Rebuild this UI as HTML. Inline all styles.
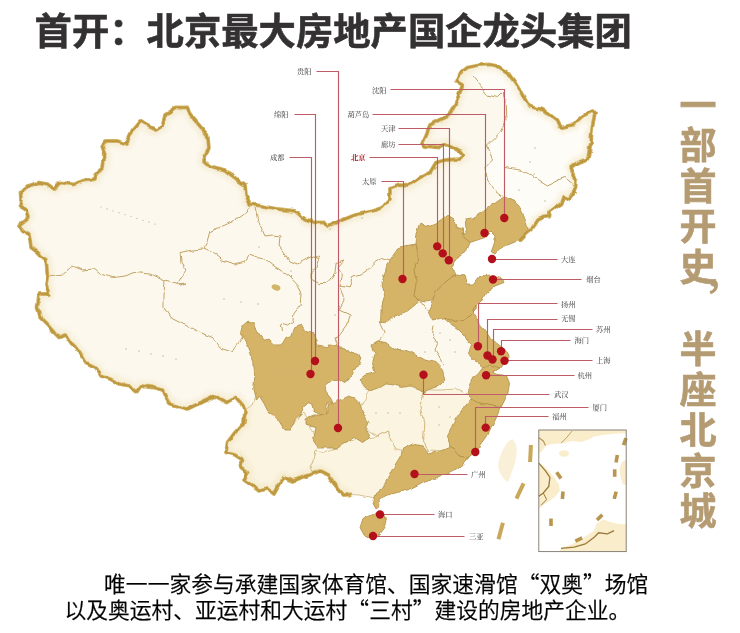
<!DOCTYPE html>
<html lang="zh-CN"><head><meta charset="utf-8"><title>首开</title>
<style>
html,body{margin:0;padding:0;background:#fff;}
body{width:740px;height:633px;position:relative;overflow:hidden;font-family:"Liberation Sans","Noto Sans CJK SC",sans-serif;}
.title{position:absolute;left:34.6px;top:3.6px;font-size:37.34px;font-weight:700;-webkit-text-stroke:0.6px #333131;color:#333131;white-space:nowrap;line-height:56px;letter-spacing:0;}
.side{position:absolute;left:679.4px;-webkit-text-stroke:0.6px #b59b72;width:40px;font-size:37px;font-weight:700;color:#b59b72;line-height:40.5px;text-align:left;white-space:nowrap;}
.side div{height:40.5px;}
.q{font-family:"Noto Sans CJK SC",sans-serif;}
.bottom{position:absolute;font-size:21.78px;color:#000;white-space:nowrap;line-height:26px;font-weight:350;-webkit-text-stroke:0.25px #000;}
.wrap{position:absolute;left:0;top:0;width:740px;height:633px;will-change:transform;}
</style></head><body><div class="wrap">
<svg width="740" height="633" viewBox="0 0 740 633" style="position:absolute;left:0;top:0">
<defs><clipPath id="cn"><polygon points="350,494.5 342.5,495 337.5,489 332.5,482.5 327.5,475 320,471 312.5,474 302.5,477.5 292.5,481 284,477.5 279,485 274,494 267.5,489 259,491 252.5,486 244,480 247.5,472.5 241,467.5 242.5,460 235,455 226,452.5 227.5,442.5 235,432.5 244,422.5 245,410 242.5,405 236,397.5 227.5,402.5 215,396 201,402.5 187.5,409 170,404 166,398 162.5,390 152.5,387.5 141,386 136,392.5 130,386 120,384 110,379 101,376 96,367.5 86,362.5 80,352.5 71,344 65,335 59,337.5 54,332.5 47.5,325 40,317.5 37.5,307.5 39,294 49,294 46,285 47.5,275 46,260 37.5,252.5 31,247.5 30,240 29,235 22.5,231 19,225 24,221 28,217.5 26,210 19.5,206 21,200 20.5,192.5 27.5,186 39,182.5 47.5,184 54,189 60,182.5 72.5,184.5 82.5,181 95,179 96,174 103,167.5 105,155 102,146 105,141 117.5,141 126,144 132.5,130 140,121 146,125 156,130 162.5,126 165,115 170,112 176,107.5 187.5,107.5 190,115 199,125 207.5,135 209,147.5 204,161 210,166 225,170 237.5,180 245,185 246,195 250,204 262.5,206 277.5,209 295,211 305,219 315,222.5 325,222.5 327.5,226 340,221 355,215 372.5,211 382.5,207.5 390,199 390,187.5 400,184 409,185 420,177.5 430,172.5 436,162.5 445,160 460,159 464,156 460,151 451,146 445,144 439,147.5 425,146 422.5,142.5 426,135 430,125 439,120 447.5,116 454,106 459,95 462.5,85 456,81 459,74 467.5,67.5 480,65 490,64.5 497.5,66 507.5,72.5 515,82.5 522.5,95 529,106 540,109 550,114 557.5,120 561,127.5 572.5,125 582.5,116 592.5,111 595,114 592.5,125 591,142.5 587.5,159 577.5,162.5 571,167.5 576,180 575.7,186 573,194.6 569.6,199 564.3,196.4 561.7,203.4 555.5,207.8 550.3,211.3 549.4,216.6 543.2,217.4 538,220 532.7,228 525.7,234 519.5,240.3 519.5,240.3 515,242 506.4,245.5 499.3,249 495,254 491,252.5 494,244 496,236 491,231 485,237.5 477.5,240 470,242.5 466,252.5 455,260 452.5,266 456,274 465,275 467.5,284 474,284 480,276 490,275 502.5,279 504,282.5 495,286 487.5,292.5 482.5,300 475,306 473.2,309.5 474,315.8 478.7,322.1 484.2,328.4 489,334.7 492.1,339.5 498.4,344.2 504.7,349 507.9,355.3 507.9,361.6 503.2,363.2 500,367.9 493.7,371.8 498.4,374.2 506.3,375.8 509.5,382.1 507.9,394.7 505,397.5 500,407.5 496,417.5 491,427.5 487.5,436 481,445 476,452.5 470,455 462.5,464 455,470 442.5,476 432.5,480 425,481 417.5,485 407.5,490 397.5,492.5 387.5,495 379,499 380,506 376,509 372.5,502.5 372.5,497.5 360,495"/></clipPath><filter id="bl" x="-5%" y="-5%" width="110%" height="110%"><feGaussianBlur stdDeviation="2.2"/></filter><filter id="rough" x="-2%" y="-2%" width="104%" height="104%"><feTurbulence type="fractalNoise" baseFrequency="0.1" numOctaves="2" seed="3" result="n"/><feDisplacementMap in="SourceGraphic" in2="n" scale="4.5" xChannelSelector="R" yChannelSelector="G"/></filter></defs>
<g filter="url(#rough)">
<polygon points="350,494.5 342.5,495 337.5,489 332.5,482.5 327.5,475 320,471 312.5,474 302.5,477.5 292.5,481 284,477.5 279,485 274,494 267.5,489 259,491 252.5,486 244,480 247.5,472.5 241,467.5 242.5,460 235,455 226,452.5 227.5,442.5 235,432.5 244,422.5 245,410 242.5,405 236,397.5 227.5,402.5 215,396 201,402.5 187.5,409 170,404 166,398 162.5,390 152.5,387.5 141,386 136,392.5 130,386 120,384 110,379 101,376 96,367.5 86,362.5 80,352.5 71,344 65,335 59,337.5 54,332.5 47.5,325 40,317.5 37.5,307.5 39,294 49,294 46,285 47.5,275 46,260 37.5,252.5 31,247.5 30,240 29,235 22.5,231 19,225 24,221 28,217.5 26,210 19.5,206 21,200 20.5,192.5 27.5,186 39,182.5 47.5,184 54,189 60,182.5 72.5,184.5 82.5,181 95,179 96,174 103,167.5 105,155 102,146 105,141 117.5,141 126,144 132.5,130 140,121 146,125 156,130 162.5,126 165,115 170,112 176,107.5 187.5,107.5 190,115 199,125 207.5,135 209,147.5 204,161 210,166 225,170 237.5,180 245,185 246,195 250,204 262.5,206 277.5,209 295,211 305,219 315,222.5 325,222.5 327.5,226 340,221 355,215 372.5,211 382.5,207.5 390,199 390,187.5 400,184 409,185 420,177.5 430,172.5 436,162.5 445,160 460,159 464,156 460,151 451,146 445,144 439,147.5 425,146 422.5,142.5 426,135 430,125 439,120 447.5,116 454,106 459,95 462.5,85 456,81 459,74 467.5,67.5 480,65 490,64.5 497.5,66 507.5,72.5 515,82.5 522.5,95 529,106 540,109 550,114 557.5,120 561,127.5 572.5,125 582.5,116 592.5,111 595,114 592.5,125 591,142.5 587.5,159 577.5,162.5 571,167.5 576,180 575.7,186 573,194.6 569.6,199 564.3,196.4 561.7,203.4 555.5,207.8 550.3,211.3 549.4,216.6 543.2,217.4 538,220 532.7,228 525.7,234 519.5,240.3 519.5,240.3 515,242 506.4,245.5 499.3,249 495,254 491,252.5 494,244 496,236 491,231 485,237.5 477.5,240 470,242.5 466,252.5 455,260 452.5,266 456,274 465,275 467.5,284 474,284 480,276 490,275 502.5,279 504,282.5 495,286 487.5,292.5 482.5,300 475,306 473.2,309.5 474,315.8 478.7,322.1 484.2,328.4 489,334.7 492.1,339.5 498.4,344.2 504.7,349 507.9,355.3 507.9,361.6 503.2,363.2 500,367.9 493.7,371.8 498.4,374.2 506.3,375.8 509.5,382.1 507.9,394.7 505,397.5 500,407.5 496,417.5 491,427.5 487.5,436 481,445 476,452.5 470,455 462.5,464 455,470 442.5,476 432.5,480 425,481 417.5,485 407.5,490 397.5,492.5 387.5,495 379,499 380,506 376,509 372.5,502.5 372.5,497.5 360,495" fill="#fcf8ee"/>
<polygon points="472,75 480,85 487.5,95 497.5,97.5 503,92 505,100 506,120 500,132.5 487.5,145 492.5,160 485,167.5 487.5,180 495,190 502.5,196 515,200.7 521.3,209.5 525.7,221 528.3,229.7 532.7,228 538,220 543.2,217.4 549.4,216.6 550.3,211.3 555.5,207.8 561.7,203.4 564.3,196.4 569.6,199 573,194.6 575.7,186 576,180 571,167.5 577.5,162.5 587.5,159 591,142.5 592.5,125 595,114 592.5,111 582.5,116 572.5,125 561,127.5 557.5,120 550,114 540,109 529,106 522.5,95 515,82.5 507.5,72.5 497.5,66 490,64.5 480,65 470,67" fill="#fefcf7"/>
<polygon points="369.5,388 383.4,380 401,385 415,383 425,390 420,405.8 423.9,423.5 422.6,441.2 428.9,452 413.7,452 401,454 396,448.8 391,441.2 388.5,431 378.4,436.2 368,431 364,418.5 362,405.8" fill="#fbf4e1" stroke="#c9aa6c" stroke-width="0.7"/>
<polygon points="425,390 441.6,390 456.7,389 475,395 478,403 470,413 462,426 456,438 452,452 431.4,450 428.9,452 422.6,441.2 423.9,423.5 420,405.8" fill="#fbf4e1" stroke="#c9aa6c" stroke-width="0.7"/>
<polygon points="325.3,453 340.4,445 350.6,441 366,438 378.4,436.2 388.5,431 391,441.2 396,448.8 405,451 402,461 395,474 388,490 380,497 372.5,497.5 360,495 350,494.5 342.5,495 337.5,489 332.5,482.5 327.5,475 320,471 312.5,474 310,466.5 313,460 315,451" fill="#fbf4e1" stroke="#c9aa6c" stroke-width="0.7"/>
<polygon points="245,410 252,405 255,398 261,393 268,399 279,415.5 286,427 294,426 299,418 304,413 308,419 308,425 316,437 318,447 315,451 313,460 310,466.5 312.5,474 302.5,477.5 292.5,481 284,477.5 279,485 274,494 267.5,489 259,491 252.5,486 244,480 247.5,472.5 241,467.5 242.5,460 235,455 226,452.5 227.5,442.5 235,432.5 244,422.5" fill="#fbf4e1" stroke="#c9aa6c" stroke-width="0.7"/>
<g clip-path="url(#cn)"><polyline points="350,494.5 342.5,495 337.5,489 332.5,482.5 327.5,475 320,471 312.5,474 302.5,477.5 292.5,481 284,477.5 279,485 274,494 267.5,489 259,491 252.5,486 244,480 247.5,472.5 241,467.5 242.5,460 235,455 226,452.5 227.5,442.5 235,432.5 244,422.5 245,410 242.5,405 236,397.5 227.5,402.5 215,396 201,402.5 187.5,409 170,404 166,398 162.5,390 152.5,387.5 141,386 136,392.5 130,386 120,384 110,379 101,376 96,367.5 86,362.5 80,352.5 71,344 65,335 59,337.5 54,332.5 47.5,325 40,317.5 37.5,307.5 39,294 49,294 46,285 47.5,275 46,260 37.5,252.5 31,247.5 30,240 29,235 22.5,231 19,225 24,221 28,217.5 26,210 19.5,206 21,200 20.5,192.5 27.5,186 39,182.5 47.5,184 54,189 60,182.5 72.5,184.5 82.5,181 95,179 96,174 103,167.5 105,155 102,146 105,141 117.5,141 126,144 132.5,130 140,121 146,125 156,130 162.5,126 165,115 170,112 176,107.5 187.5,107.5 190,115 199,125 207.5,135 209,147.5 204,161 210,166 225,170 237.5,180 245,185 246,195 250,204 262.5,206 277.5,209 295,211 305,219 315,222.5 325,222.5 327.5,226 340,221 355,215 372.5,211 382.5,207.5 390,199 390,187.5 400,184 409,185 420,177.5 430,172.5 436,162.5 445,160 460,159 464,156 460,151 451,146 445,144 439,147.5 425,146 422.5,142.5 426,135 430,125 439,120 447.5,116 454,106 459,95 462.5,85 456,81 459,74 467.5,67.5 480,65 490,64.5 497.5,66 507.5,72.5 515,82.5 522.5,95 529,106 540,109 550,114 557.5,120 561,127.5 572.5,125 582.5,116 592.5,111 595,114 592.5,125 591,142.5 587.5,159 577.5,162.5 571,167.5 576,180 575.7,186 573,194.6 569.6,199 564.3,196.4 561.7,203.4 555.5,207.8 550.3,211.3 549.4,216.6 543.2,217.4 538,220 532.7,228 525.7,234 519.5,240.3" fill="none" stroke="#f0e3be" stroke-width="11" stroke-linejoin="round" filter="url(#bl)" opacity="0.5"/></g>
<polygon points="397.5,249 405,246 415,244 419,257.5 414,270 417.5,282.5 415,295 419,300 415,305 407.5,311 395,316 385,322.5 380.5,322.5 381,310 384,297.5 381,285 386,270 390,260" fill="#d5b468" stroke="#b08f45" stroke-width="0.8"/>
<polygon points="420,224 426,227.5 435,224 447.5,215 454,219 456,227.5 462.5,229 462.5,236 470,242.5 466,252.5 455,260 452.5,266 456,274 445,282.5 435,292.5 432.5,300 425,301 419,300 415,295 417.5,282.5 414,270 419,257.5 415,244 416,232.5" fill="#d5b468" stroke="#b08f45" stroke-width="0.8"/>
<polygon points="504.6,196.4 515,200.7 521.3,209.5 525.7,221 528.3,229.7 519.5,240.3 515,242 506.4,245.5 499.3,249 495,254 491,252.5 494,244 496,236 491,231 485,237.5 477.5,240 470,242.5 462.5,236 466,229 465,219 475,217.5 485,211 492.5,205" fill="#d5b468" stroke="#b08f45" stroke-width="0.8"/>
<polygon points="456,274 465,275 467.5,284 474,284 480,276 490,275 502.5,279 504,282.5 495,286 487.5,292.5 482.5,300 475,306 475,310 465,320 455,322.5 445,317.5 432.5,320 429,312.5 432.5,302.5 435,292.5 445,282.5" fill="#d5b468" stroke="#b08f45" stroke-width="0.8"/>
<polygon points="475,306 473.2,309.5 474,315.8 478.7,322.1 484.2,328.4 489,334.7 492.1,339.5 498.4,344.2 504.7,349 507.9,355.3 507.9,361.6 503.2,363.2 500,367.9 493.7,371.8 482.6,367.9 479.5,363.2 473.2,360 468.4,352.1 471.6,345.8 466.8,341 463.7,334.7 458.9,330 452.6,325.3 446.3,320.5 443.2,317.4 445,317.5 455,322.5 465,320 475,310" fill="#d5b468" stroke="#b08f45" stroke-width="0.8"/>
<polygon points="482.6,367.9 477.9,374.2 471.6,379 468.4,388.4 471.6,400 477.5,402.5 500,407.5 505,397.5 507.9,394.7 509.5,382.1 506.3,375.8 498.4,374.2 493.7,371.8 500,367.9 490,365" fill="#d5b468" stroke="#b08f45" stroke-width="0.8"/>
<polygon points="471,399 477.5,402.5 500,407.5 496,417.5 491,427.5 487.5,436 481,445 476,452.5 470,455 466,457.5 460,456 455,450 450,447.5 447.5,435 452.5,425 455,420 460,412.5 464,407.5" fill="#d5b468" stroke="#b08f45" stroke-width="0.8"/>
<polygon points="402.5,449 412.5,444 422.5,446 429,454 440,451 450,447.5 455,450 460,456 466,457.5 470,455 462.5,464 455,470 442.5,476 432.5,480 425,481 417.5,485 407.5,490 397.5,492.5 387.5,495 379,499 380,506 376,509 372.5,502.5 375,494 382.5,487.5 387.5,479 392.5,469 397.5,461 401,455" fill="#d5b468" stroke="#b08f45" stroke-width="0.8"/>
<polygon points="367.5,516 376,514 384,515 386,520 384,527.5 379,534 371,537.5 364,535 360,527.5 362.5,520" fill="#d5b468" stroke="#b08f45" stroke-width="0.8"/>
<polygon points="371,346 377.5,341 386,342.5 394,349 405,350 415,354 425,360 435,362.5 442.5,370 445,380 439,386 430,389 425,392.5 419,390 410,386 402.5,387.5 394,385 385,384 379,387.5 370,391 365,387.5 360,380 366,375 375,372.5 372.5,362.5 375,354" fill="#d5b468" stroke="#b08f45" stroke-width="0.8"/>
<polygon points="242.3,325.9 248,321.1 253.7,323 256.6,331.6 263.2,340.1 268.9,339.1 274.6,343.9 281.2,343.9 285,337.3 290.7,335.4 293.6,327.8 301.1,324.9 304.9,331.6 313.5,333.5 316.3,340.1 316.3,345.8 326.8,347.7 328.7,344.8 336.2,346.7 345.7,349.6 355.2,354.3 360.9,357.2 359,363.8 353.3,371.4 348.6,379.9 343.8,382.8 339.1,379.9 332.4,380.9 325.8,386.6 324.9,391.3 330.6,398 333.4,403.7 328.7,401.8 325.8,407.4 326.8,413.1 321.1,415 313.5,411.2 311.6,402.7 307.8,401.8 303,408.4 301.1,415 296.4,418.8 294.5,425 291,430 284,430 276,417.5 267.9,411.2 264.1,403.7 259.4,396.1 256.6,399.9 253.7,388.5 254.7,377.1 253.7,361.9 249,348.6 243.3,338.2 240.4,333.5" fill="#d5b468" stroke="#b08f45" stroke-width="0.8"/>
<polygon points="305,419 313.5,415 321.1,415 326.8,413.1 328.7,403.7 333.4,403.7 340,399.9 347.6,396.1 355.2,398 360.9,403.7 362.8,411.2 366.6,418.8 369,422.5 366,430 370,437.5 362.5,442.5 355,437.5 347.5,442.5 337.5,448 317.5,448 312.5,437.5 315,427.5 305,425" fill="#d5b468" stroke="#b08f45" stroke-width="0.8"/>
<polyline points="472,75 480,85 487.5,95 497.5,97.5 503,92 505,100 506,120 500,132.5 487.5,145 492.5,160 485,167.5 487.5,180 495,190 502.5,196" fill="none" stroke="#c2a363" stroke-width="1"/>
<polyline points="505,167.5 520,170 535,177.5 547.5,185 557.5,180 565,177.5 574,185" fill="none" stroke="#c2a363" stroke-width="1"/>
<polyline points="434,325 432.5,335 437.5,342.5 435,350 440,357.5 442.5,365" fill="none" stroke="#c2a363" stroke-width="1"/>
<polyline points="390,260 382.5,257.5 375,262.5 367.5,270 360,275 352.5,277.5 349,287.5 340,286 342.5,275 337.5,267.5 344,260 336,262.5 335,272.5 327.5,282.5 320,282.5" fill="none" stroke="#c2a363" stroke-width="1"/>
<polyline points="340,286 344,300 339,310 350,315 347.5,325 340,335 334,337.5 337.5,347.5" fill="none" stroke="#c2a363" stroke-width="1"/>
<polyline points="380.5,322.5 385,332.5 380,340 374,343" fill="none" stroke="#c2a363" stroke-width="1"/>
<polyline points="419,300 427,310 429,312.5" fill="none" stroke="#c2a363" stroke-width="1"/>
<polyline points="49,276 62.5,274 72.5,266 82.5,270 94,269 100,274 112.5,277.5 125,276 135,272.5 150,274 165,281 180,285 186,283" fill="none" stroke="#c2a363" stroke-width="1"/>
<polyline points="165,281 164,294 164,307.5 170,317.5 185,325 200,332.5 212.5,337.5 220,348 232,352 244,335" fill="none" stroke="#c2a363" stroke-width="1"/>
<polyline points="250,206 245,212.5 235,220 224,225 210,231 207.5,240 202.5,249 192.5,250 180,252.5 181,262.5 186,270 181,277.5 177.5,284 186,283" fill="none" stroke="#c2a363" stroke-width="1"/>
<polyline points="202.5,249 212.5,252.5 222.5,260 235,264 245,261 249,255 256,257.5 265,259 272.5,265 280,270 289,276 297.5,285 301,295 300,305 294,312.5 292.5,322.5 287.5,326 281,324 282.5,331" fill="none" stroke="#c2a363" stroke-width="1"/>
<polyline points="256,207.5 259,222.5 265,236 272.5,235 280,236 279,246 285,254 290,261 297.5,264 305,260 312.5,256 319,257.5 316,267.5 311,272.5 311,279 320,284" fill="none" stroke="#c2a363" stroke-width="1"/>
<polyline points="350,494.5 342.5,495 337.5,489 332.5,482.5 327.5,475 320,471 312.5,474 302.5,477.5 292.5,481 284,477.5 279,485 274,494 267.5,489 259,491 252.5,486 244,480 247.5,472.5 241,467.5 242.5,460 235,455 226,452.5 227.5,442.5 235,432.5 244,422.5 245,410 242.5,405 236,397.5 227.5,402.5 215,396 201,402.5 187.5,409 170,404 166,398 162.5,390 152.5,387.5 141,386 136,392.5 130,386 120,384 110,379 101,376 96,367.5 86,362.5 80,352.5 71,344 65,335 59,337.5 54,332.5 47.5,325 40,317.5 37.5,307.5 39,294 49,294 46,285 47.5,275 46,260 37.5,252.5 31,247.5 30,240 29,235 22.5,231 19,225 24,221 28,217.5 26,210 19.5,206 21,200 20.5,192.5 27.5,186 39,182.5 47.5,184 54,189 60,182.5 72.5,184.5 82.5,181 95,179 96,174 103,167.5 105,155 102,146 105,141 117.5,141 126,144 132.5,130 140,121 146,125 156,130 162.5,126 165,115 170,112 176,107.5 187.5,107.5 190,115 199,125 207.5,135 209,147.5 204,161 210,166 225,170 237.5,180 245,185 246,195 250,204 262.5,206 277.5,209 295,211 305,219 315,222.5 325,222.5 327.5,226 340,221 355,215 372.5,211 382.5,207.5 390,199 390,187.5 400,184 409,185 420,177.5 430,172.5 436,162.5 445,160 460,159 464,156 460,151 451,146 445,144 439,147.5 425,146 422.5,142.5 426,135 430,125 439,120 447.5,116 454,106 459,95 462.5,85 456,81 459,74 467.5,67.5 480,65 490,64.5 497.5,66 507.5,72.5 515,82.5 522.5,95 529,106 540,109 550,114 557.5,120 561,127.5 572.5,125 582.5,116 592.5,111 595,114 592.5,125 591,142.5 587.5,159 577.5,162.5 571,167.5 576,180 575.7,186 573,194.6 569.6,199 564.3,196.4 561.7,203.4 555.5,207.8 550.3,211.3 549.4,216.6 543.2,217.4 538,220 532.7,228 525.7,234 519.5,240.3" fill="none" stroke="#d3b566" stroke-width="3.8" stroke-linejoin="round" stroke-linecap="round"/>
<polyline points="350,494.5 342.5,495 337.5,489 332.5,482.5 327.5,475 320,471 312.5,474 302.5,477.5 292.5,481 284,477.5 279,485 274,494 267.5,489 259,491 252.5,486 244,480 247.5,472.5 241,467.5 242.5,460 235,455 226,452.5 227.5,442.5 235,432.5 244,422.5 245,410 242.5,405 236,397.5 227.5,402.5 215,396 201,402.5 187.5,409 170,404 166,398 162.5,390 152.5,387.5 141,386 136,392.5 130,386 120,384 110,379 101,376 96,367.5 86,362.5 80,352.5 71,344 65,335 59,337.5 54,332.5 47.5,325 40,317.5 37.5,307.5 39,294 49,294 46,285 47.5,275 46,260 37.5,252.5 31,247.5 30,240 29,235 22.5,231 19,225 24,221 28,217.5 26,210 19.5,206 21,200 20.5,192.5 27.5,186 39,182.5 47.5,184 54,189 60,182.5 72.5,184.5 82.5,181 95,179 96,174 103,167.5 105,155 102,146 105,141 117.5,141 126,144 132.5,130 140,121 146,125 156,130 162.5,126 165,115 170,112 176,107.5 187.5,107.5 190,115 199,125 207.5,135 209,147.5 204,161 210,166 225,170 237.5,180 245,185 246,195 250,204 262.5,206 277.5,209 295,211 305,219 315,222.5 325,222.5 327.5,226 340,221 355,215 372.5,211 382.5,207.5 390,199 390,187.5 400,184 409,185 420,177.5 430,172.5 436,162.5 445,160 460,159 464,156 460,151 451,146 445,144 439,147.5 425,146 422.5,142.5 426,135 430,125 439,120 447.5,116 454,106 459,95 462.5,85 456,81 459,74 467.5,67.5 480,65 490,64.5 497.5,66 507.5,72.5 515,82.5 522.5,95 529,106 540,109 550,114 557.5,120 561,127.5 572.5,125 582.5,116 592.5,111 595,114 592.5,125 591,142.5 587.5,159 577.5,162.5 571,167.5 576,180 575.7,186 573,194.6 569.6,199 564.3,196.4 561.7,203.4 555.5,207.8 550.3,211.3 549.4,216.6 543.2,217.4 538,220 532.7,228 525.7,234 519.5,240.3" fill="none" stroke="#bd983f" stroke-width="2.2" stroke-linejoin="round" stroke-linecap="round"/>
</g>
<ellipse cx="276" cy="287.5" rx="4.6" ry="2.8" fill="#d2b566" transform="rotate(20 276 287.5)"/>
<circle cx="101.0" cy="207.0" r="0.6" fill="#a9adba"/>
<circle cx="107.0" cy="208.9" r="0.6" fill="#a9adba"/>
<circle cx="113.0" cy="210.8" r="0.6" fill="#a9adba"/>
<circle cx="119.0" cy="212.7" r="0.6" fill="#a9adba"/>
<circle cx="125.0" cy="214.6" r="0.6" fill="#a9adba"/>
<circle cx="131.0" cy="216.5" r="0.6" fill="#a9adba"/>
<circle cx="137.0" cy="218.4" r="0.6" fill="#a9adba"/>
<circle cx="143.0" cy="220.3" r="0.6" fill="#a9adba"/>
<circle cx="149.0" cy="222.2" r="0.6" fill="#a9adba"/>
<circle cx="155.0" cy="224.1" r="0.6" fill="#a9adba"/>
<circle cx="126.0" cy="349.0" r="0.7" fill="#b9ae98"/>
<circle cx="139.0" cy="351.0" r="0.7" fill="#b9ae98"/>
<circle cx="151.0" cy="354.0" r="0.7" fill="#b9ae98"/>
<circle cx="163.0" cy="356.0" r="0.7" fill="#b9ae98"/>
<circle cx="176.0" cy="359.0" r="0.7" fill="#b9ae98"/>
<circle cx="224.0" cy="299.0" r="0.7" fill="#b9ae98"/>
<circle cx="241.0" cy="302.0" r="0.7" fill="#b9ae98"/>
<circle cx="258.0" cy="304.0" r="0.7" fill="#b9ae98"/>
<circle cx="259.0" cy="247.0" r="0.7" fill="#b9ae98"/>
<circle cx="291.0" cy="271.0" r="0.7" fill="#b9ae98"/>
<circle cx="395.0" cy="275.0" r="0.7" fill="#b9ae98"/>
<circle cx="405.0" cy="293.0" r="0.7" fill="#b9ae98"/>
<circle cx="330.0" cy="229.0" r="0.7" fill="#b9ae98"/>
<circle cx="362.0" cy="218.0" r="0.7" fill="#b9ae98"/>
<circle cx="430.0" cy="248.0" r="0.7" fill="#b9ae98"/>
<circle cx="535.0" cy="148.0" r="0.7" fill="#b9ae98"/>
<circle cx="530.0" cy="162.0" r="0.7" fill="#b9ae98"/>
<circle cx="534.0" cy="174.0" r="0.7" fill="#b9ae98"/>
<circle cx="545.0" cy="201.0" r="0.7" fill="#b9ae98"/>
<circle cx="519.0" cy="190.0" r="0.7" fill="#b9ae98"/>
<circle cx="335.0" cy="315.0" r="0.7" fill="#b9ae98"/>
<circle cx="300.0" cy="345.0" r="0.7" fill="#b9ae98"/>
<circle cx="283.0" cy="371.0" r="0.7" fill="#b9ae98"/>
<circle cx="296.0" cy="371.0" r="0.7" fill="#b9ae98"/>
<circle cx="376.0" cy="413.0" r="0.7" fill="#b9ae98"/>
<circle cx="388.0" cy="413.0" r="0.7" fill="#b9ae98"/>
<circle cx="400.0" cy="413.0" r="0.7" fill="#b9ae98"/>
<circle cx="439.0" cy="407.0" r="0.7" fill="#b9ae98"/>
<circle cx="439.0" cy="425.0" r="0.7" fill="#b9ae98"/>
<circle cx="450.0" cy="417.0" r="0.7" fill="#b9ae98"/>
<circle cx="455.0" cy="352.0" r="0.7" fill="#b9ae98"/>
<circle cx="450.0" cy="340.0" r="0.7" fill="#b9ae98"/>
<circle cx="410.0" cy="352.0" r="0.7" fill="#b9ae98"/>
<circle cx="425.0" cy="352.0" r="0.7" fill="#b9ae98"/>
<circle cx="440.0" cy="333.0" r="0.7" fill="#b9ae98"/>
<path d="M512.4,439 Q517,444 516.7,450 Q516.5,461 511.6,473 Q510,479 507.8,482 Q503,479 501.5,475.7 Q497.5,468 498.2,465 Q499,456 505.3,445.4 Q508,441 512.4,439 Z" fill="#faf0d8"/>
<rect x="528.5" y="445.0" width="4" height="17" fill="#c9a85a" transform="rotate(3 530.5 453.5)"/>
<rect x="518.0" y="482.5" width="4" height="17" fill="#c9a85a" transform="rotate(25 520.0 491.0)"/>
<rect x="498.7" y="522.5" width="4" height="17" fill="#c9a85a" transform="rotate(15 500.7 531.0)"/>
<rect x="538.8" y="430" width="87.4" height="121.6" fill="#fff"/>
<polygon points="538.8,430.0 626.2,430.0 626.2,433.3 614.1,433.7 603.0,435.0 594.2,436.6 587.5,439.9 580.9,442.1 572.0,441.0 563.2,443.2 552.1,443.9 545.5,446.1 542.2,451.0 538.8,453.2" fill="#f9edcc"/>
<ellipse cx="564" cy="453.5" rx="5" ry="3.2" fill="#f9edcc"/>
<polygon points="538.8,463.1 543.3,465.4 548.8,470.9 554.3,477.5 558.8,484.2 559.9,490.8 554.3,497.4 547.7,501.9 542.2,506.3 538.8,508.5" fill="#f9edcc"/>
<polygon points="596.4,524.0 603.0,519.6 609.6,521.8 618.5,524.0 626.2,524.0 626.2,551.6 558.8,551.6 563.2,547.2 572.0,543.9 580.9,539.5 587.5,535.0 594.2,530.6" fill="#f9edcc"/>
<polygon points="626.2,459.8 621.8,462.0 619.6,468.7 620.7,477.5 622.9,484.2 626.2,485.3" fill="#f9edcc"/>
<polygon points="626.2,436.6 623.4,439.9 624.0,444.3 626.2,445.4" fill="#f9edcc"/>
<polyline points="538.8,463.1 545.5,470.9 549.9,477.5 548.8,486.4 543.3,493.0 538.8,496.3" fill="none" stroke="#9a7a38" stroke-width="1.3"/>
<polyline points="543.3,493.0 546.6,499.6 541.1,505.2" fill="none" stroke="#9a7a38" stroke-width="1"/>
<polyline points="561.0,548.3 574.2,547.2 585.3,543.9 594.2,537.3 598.6,532.8 607.4,533.9 614.1,530.6" fill="none" stroke="#9a7a38" stroke-width="1.3"/>
<polyline points="561.0,443.2 566.5,437.7 572.0,431.1" fill="none" stroke="#b89a58" stroke-width="0.9"/>
<polyline points="538.8,437.7 543.3,441.0 545.5,445.4" fill="none" stroke="#b89a58" stroke-width="1.2"/>
<rect x="557.0" y="471.6" width="3.6" height="7.5" fill="#b8964e" transform="rotate(-35 558.8 475.3)"/>
<rect x="560.9" y="491.5" width="3.6" height="7.5" fill="#b8964e" transform="rotate(5 562.7 495.2)"/>
<rect x="549.2" y="518.5" width="3.6" height="7.5" fill="#b8964e" transform="rotate(0 551.0 522.2)"/>
<rect x="576.9" y="535.7" width="3.6" height="7.5" fill="#b8964e" transform="rotate(65 578.7 539.5)"/>
<rect x="597.9" y="513.6" width="3.6" height="7.5" fill="#b8964e" transform="rotate(45 599.7 517.3)"/>
<rect x="613.4" y="491.5" width="3.6" height="7.5" fill="#b8964e" transform="rotate(15 615.2 495.2)"/>
<rect x="612.9" y="469.3" width="3.6" height="7.5" fill="#b8964e" transform="rotate(0 614.7 473.1)"/>
<rect x="614.9" y="455.0" width="3.6" height="7.5" fill="#b8964e" transform="rotate(10 616.7 458.7)"/>
<rect x="622.9" y="437.9" width="3.6" height="7.5" fill="#b8964e" transform="rotate(20 624.7 441.7)"/>
<rect x="538.8" y="430" width="87.4" height="121.6" fill="none" stroke="#7d776c" stroke-width="0.9"/>
<polyline points="294.5,114.5 315.5,114.5 315.5,361.5" fill="none" stroke="#bd5c66" stroke-width="1.15"/>
<polyline points="289.5,157.5 311.5,157.5 311.5,374.5" fill="none" stroke="#bd5c66" stroke-width="1.15"/>
<polyline points="316.5,71.5 338.5,71.5 338.5,428.5" fill="none" stroke="#bd5c66" stroke-width="1.15"/>
<polyline points="390.5,89.5 504.5,89.5 504.5,218.5" fill="none" stroke="#bd5c66" stroke-width="1.15"/>
<polyline points="372.5,114.5 485.5,114.5 485.5,233.5" fill="none" stroke="#bd5c66" stroke-width="1.15"/>
<polyline points="398.5,128.5 449.5,128.5 449.5,260.5" fill="none" stroke="#bd5c66" stroke-width="1.15"/>
<polyline points="398.5,144.5 443.5,144.5 443.5,253.5" fill="none" stroke="#bd5c66" stroke-width="1.15"/>
<polyline points="369.5,157.5 437.5,157.5 437.5,246.5" fill="none" stroke="#bd5c66" stroke-width="1.15"/>
<polyline points="381.5,181.5 403.5,181.5 403.5,279.5" fill="none" stroke="#bd5c66" stroke-width="1.15"/>
<polyline points="492.5,259.5 557.5,259.5" fill="none" stroke="#bd5c66" stroke-width="1.15"/>
<polyline points="493.5,279.5 581.5,279.5" fill="none" stroke="#bd5c66" stroke-width="1.15"/>
<polyline points="478.5,346.5 478.5,303.5 557.5,303.5" fill="none" stroke="#bd5c66" stroke-width="1.15"/>
<polyline points="487.5,355.5 487.5,319.5 557.5,319.5" fill="none" stroke="#bd5c66" stroke-width="1.15"/>
<polyline points="493.5,359.5 493.5,329.5 592.5,329.5" fill="none" stroke="#bd5c66" stroke-width="1.15"/>
<polyline points="501.5,351.5 501.5,340.5 570.5,340.5" fill="none" stroke="#bd5c66" stroke-width="1.15"/>
<polyline points="504.5,360.5 592.5,360.5" fill="none" stroke="#bd5c66" stroke-width="1.15"/>
<polyline points="486.5,375.5 574.5,375.5" fill="none" stroke="#bd5c66" stroke-width="1.15"/>
<polyline points="423.5,375.5 423.5,394.5 549.5,394.5" fill="none" stroke="#bd5c66" stroke-width="1.15"/>
<polyline points="475.5,452.5 475.5,407.5 588.5,407.5" fill="none" stroke="#bd5c66" stroke-width="1.15"/>
<polyline points="485.5,427.5 485.5,416.5 548.5,416.5" fill="none" stroke="#bd5c66" stroke-width="1.15"/>
<polyline points="414.5,474.5 467.5,474.5" fill="none" stroke="#bd5c66" stroke-width="1.15"/>
<polyline points="380.5,514.5 434.5,514.5" fill="none" stroke="#bd5c66" stroke-width="1.15"/>
<polyline points="373.5,536.5 464.5,536.5" fill="none" stroke="#bd5c66" stroke-width="1.15"/>
<circle cx="402.5" cy="279.0" r="4.2" fill="#b3101c"/>
<circle cx="437.2" cy="246.4" r="4.2" fill="#b3101c"/>
<circle cx="442.7" cy="253.4" r="4.2" fill="#b3101c"/>
<circle cx="448.8" cy="260.2" r="4.2" fill="#b3101c"/>
<circle cx="484.5" cy="233.0" r="4.2" fill="#b3101c"/>
<circle cx="504.3" cy="218.0" r="4.2" fill="#b3101c"/>
<circle cx="492.0" cy="259.0" r="4.2" fill="#b3101c"/>
<circle cx="493.0" cy="279.5" r="4.2" fill="#b3101c"/>
<circle cx="477.9" cy="346.3" r="4.2" fill="#b3101c"/>
<circle cx="487.5" cy="355.5" r="4.2" fill="#b3101c"/>
<circle cx="492.5" cy="359.5" r="4.2" fill="#b3101c"/>
<circle cx="501.1" cy="351.3" r="4.2" fill="#b3101c"/>
<circle cx="504.5" cy="360.7" r="4.2" fill="#b3101c"/>
<circle cx="486.1" cy="375.3" r="4.2" fill="#b3101c"/>
<circle cx="423.5" cy="374.7" r="4.2" fill="#b3101c"/>
<circle cx="485.7" cy="427.6" r="4.2" fill="#b3101c"/>
<circle cx="475.3" cy="452.0" r="4.2" fill="#b3101c"/>
<circle cx="414.5" cy="474.0" r="4.2" fill="#b3101c"/>
<circle cx="380.0" cy="514.5" r="4.2" fill="#b3101c"/>
<circle cx="373.0" cy="536.0" r="4.2" fill="#b3101c"/>
<circle cx="338.0" cy="428.0" r="4.2" fill="#b3101c"/>
<circle cx="310.5" cy="374.0" r="4.2" fill="#b3101c"/>
<circle cx="315.0" cy="361.0" r="4.2" fill="#b3101c"/>
<text x="274.0" y="116.7" font-size="7.3" fill="#555" font-weight="500" font-family="'Liberation Serif','Noto Serif CJK SC',serif">绵阳</text>
<text x="270.0" y="159.7" font-size="7.3" fill="#555" font-weight="500" font-family="'Liberation Serif','Noto Serif CJK SC',serif">成都</text>
<text x="297.0" y="73.7" font-size="7.3" fill="#555" font-weight="500" font-family="'Liberation Serif','Noto Serif CJK SC',serif">贵阳</text>
<text x="372.0" y="92.5" font-size="7.3" fill="#555" font-weight="500" font-family="'Liberation Serif','Noto Serif CJK SC',serif">沈阳</text>
<text x="347.5" y="116.9" font-size="7.3" fill="#555" font-weight="500" font-family="'Liberation Serif','Noto Serif CJK SC',serif">葫芦岛</text>
<text x="381.0" y="131.3" font-size="7.3" fill="#555" font-weight="500" font-family="'Liberation Serif','Noto Serif CJK SC',serif">天津</text>
<text x="381.0" y="147.1" font-size="7.3" fill="#555" font-weight="500" font-family="'Liberation Serif','Noto Serif CJK SC',serif">廊坊</text>
<text x="351.0" y="160.0" font-size="7.3" fill="#b3202a" font-weight="700" font-family="'Liberation Serif','Noto Serif CJK SC',serif">北京</text>
<text x="362.0" y="183.9" font-size="7.3" fill="#555" font-weight="500" font-family="'Liberation Serif','Noto Serif CJK SC',serif">太原</text>
<text x="561.0" y="261.7" font-size="7.3" fill="#555" font-weight="500" font-family="'Liberation Serif','Noto Serif CJK SC',serif">大连</text>
<text x="586.3" y="282.2" font-size="7.3" fill="#555" font-weight="500" font-family="'Liberation Serif','Noto Serif CJK SC',serif">烟台</text>
<text x="561.0" y="306.5" font-size="7.3" fill="#555" font-weight="500" font-family="'Liberation Serif','Noto Serif CJK SC',serif">扬州</text>
<text x="561.0" y="321.2" font-size="7.3" fill="#555" font-weight="500" font-family="'Liberation Serif','Noto Serif CJK SC',serif">无锡</text>
<text x="596.0" y="332.2" font-size="7.3" fill="#555" font-weight="500" font-family="'Liberation Serif','Noto Serif CJK SC',serif">苏州</text>
<text x="574.5" y="343.2" font-size="7.3" fill="#555" font-weight="500" font-family="'Liberation Serif','Noto Serif CJK SC',serif">海门</text>
<text x="596.0" y="363.2" font-size="7.3" fill="#555" font-weight="500" font-family="'Liberation Serif','Noto Serif CJK SC',serif">上海</text>
<text x="577.5" y="377.7" font-size="7.3" fill="#555" font-weight="500" font-family="'Liberation Serif','Noto Serif CJK SC',serif">杭州</text>
<text x="554.0" y="397.2" font-size="7.3" fill="#555" font-weight="500" font-family="'Liberation Serif','Noto Serif CJK SC',serif">武汉</text>
<text x="592.5" y="409.9" font-size="7.3" fill="#555" font-weight="500" font-family="'Liberation Serif','Noto Serif CJK SC',serif">厦门</text>
<text x="552.0" y="419.0" font-size="7.3" fill="#555" font-weight="500" font-family="'Liberation Serif','Noto Serif CJK SC',serif">福州</text>
<text x="471.0" y="476.7" font-size="7.3" fill="#555" font-weight="500" font-family="'Liberation Serif','Noto Serif CJK SC',serif">广州</text>
<text x="438.0" y="517.2" font-size="7.3" fill="#555" font-weight="500" font-family="'Liberation Serif','Noto Serif CJK SC',serif">海口</text>
<text x="469.0" y="538.7" font-size="7.3" fill="#555" font-weight="500" font-family="'Liberation Serif','Noto Serif CJK SC',serif">三亚</text>
</svg>
<div class="title">首开：北京最大房地产国企龙头集团</div>
<div class="side" style="top:86.8px"><div>一</div><div>部</div><div>首</div><div>开</div><div>史</div></div>
<div class="side" style="left:703.5px;top:255.8px;line-height:41.7px;-webkit-text-stroke:0">，</div>
<div class="side" style="top:331.2px"><div>半</div><div>座</div><div>北</div><div>京</div><div>城</div></div>
<div class="bottom" style="left:104.1px;top:570.4px">唯一一家参与承建国家体育馆、国家速滑馆<span class="q">“</span>双奥<span class="q">”</span>场馆</div>
<div class="bottom" style="left:64.4px;top:596.2px">以及奥运村、亚运村和大运村<span class="q">“</span>三村<span class="q">”</span>建设的房地产企业。</div>
</div></body></html>
